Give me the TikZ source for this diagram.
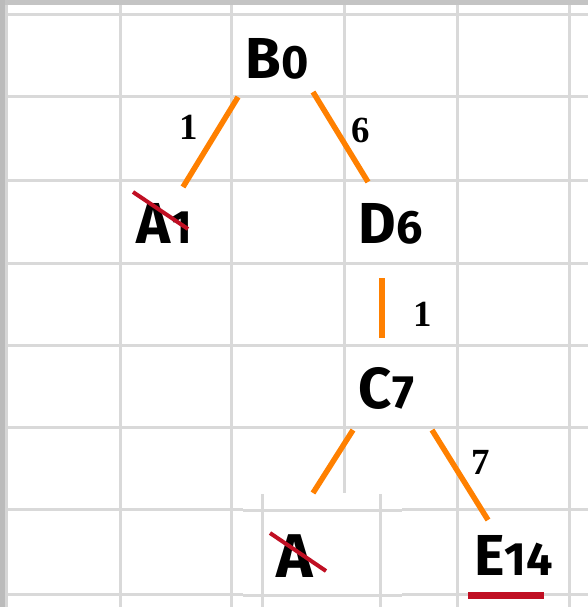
\documentclass[tikz,border=0pt]{standalone}
\usepackage{fontspec}
\setmainfont{Fira Sans}
\newfontfamily\lblfont{Liberation Serif}
\definecolor{gridgray}{HTML}{D9D9D9}
\definecolor{topgray}{HTML}{C4C4C4}
\definecolor{leftgray}{HTML}{BBBBBB}
\definecolor{leftline}{HTML}{D6D6D6}
\definecolor{edgeorange}{HTML}{FF8000}
\definecolor{strikered}{HTML}{C00F23}
\newcommand\dg[1]{{\fontsize{47}{50}\selectfont #1}}
\begin{document}
\begin{tikzpicture}[x=1bp,y=-1bp,
  gridline/.style={line width=3bp, draw=gridgray},
  edge/.style={line width=5.5bp, draw=edgeorange},
  strike/.style={line width=4bp, draw=strikered},
  cell/.style={inner sep=0pt, anchor=base, font=\fontsize{58}{60}\selectfont\bfseries},
  lbl/.style={inner sep=0pt, anchor=center, font=\fontsize{37}{40}\selectfont\lblfont\bfseries}]
\useasboundingbox (0,0) rectangle (588,607);
\fill[white] (0,0) rectangle (588,607);
% sheet frame and grid
\fill[topgray] (0,0) rectangle (588,5);
\fill[leftgray] (0,0) rectangle (5,607);
\fill[leftline] (5,5) rectangle (7.5,607);
\foreach \x in {120,231,344,457,569} \draw[gridline] (\x,5) -- (\x,607);
\foreach \y in {14.5,97,180,263,345,427,509.5,594} \draw[gridline] (7.5,\y) -- (588,\y);
% pasted patch
\fill[white] (243,493) rectangle (402,607);
\draw[gridline] (262.5,494) -- (262.5,607);
\draw[gridline] (380,494) -- (380,607);
\draw[gridline] (243,510) -- (402,510);
\draw[gridline] (243,595) -- (402,595);
% nodes
\node[cell] (B) at (277.5,79) {B\dg{0}};
\node[cell] (A1) at (164,243) {A\dg{1}};
\node[cell] (D) at (390.5,243) {D\dg{6}};
\node[cell] (C) at (386.5,408) {C\dg{7}};
\node[cell] (E) at (513.5,575) {E\dg{14}};
\node[cell, font=\fontsize{62}{64}\selectfont\bfseries] (A2) at (294.5,577) {A};
% connector end points
\coordinate (BA1) at (238,97);  \coordinate (A1B) at (183,187);
\coordinate (BD)  at (313,92);  \coordinate (DB)  at (368,182);
\coordinate (DC)  at (382,278); \coordinate (CD)  at (382,338);
\coordinate (CA2) at (353,430); \coordinate (A2C) at (313,493);
\coordinate (CE)  at (432,430); \coordinate (EC)  at (488,520);
\draw[edge] (BA1) -- (A1B);
\draw[edge] (BD) -- (DB);
\draw[edge] (DC) -- (CD);
\draw[edge] (CA2) -- (A2C);
\draw[edge] (CE) -- (EC);
% edge labels
\node[lbl] (l1) at (188.5,127.5) {1};
\node[lbl] (l2) at (361,130.5) {6};
\node[lbl] (l3) at (423,314.5) {1};
\node[lbl] (l4) at (480.5,462) {7};
% strikes and underline
\coordinate (s1a) at (133,192); \coordinate (s1b) at (188,229);
\coordinate (s2a) at (270,533); \coordinate (s2b) at (326,571);
\draw[strike] (s1a) -- (s1b);
\draw[strike] (s2a) -- (s2b);
\coordinate (u1) at (468,595.5); \coordinate (u2) at (544,595.5);
\draw[strikered, line width=7bp] (u1) -- (u2);
\end{tikzpicture}
\end{document}
